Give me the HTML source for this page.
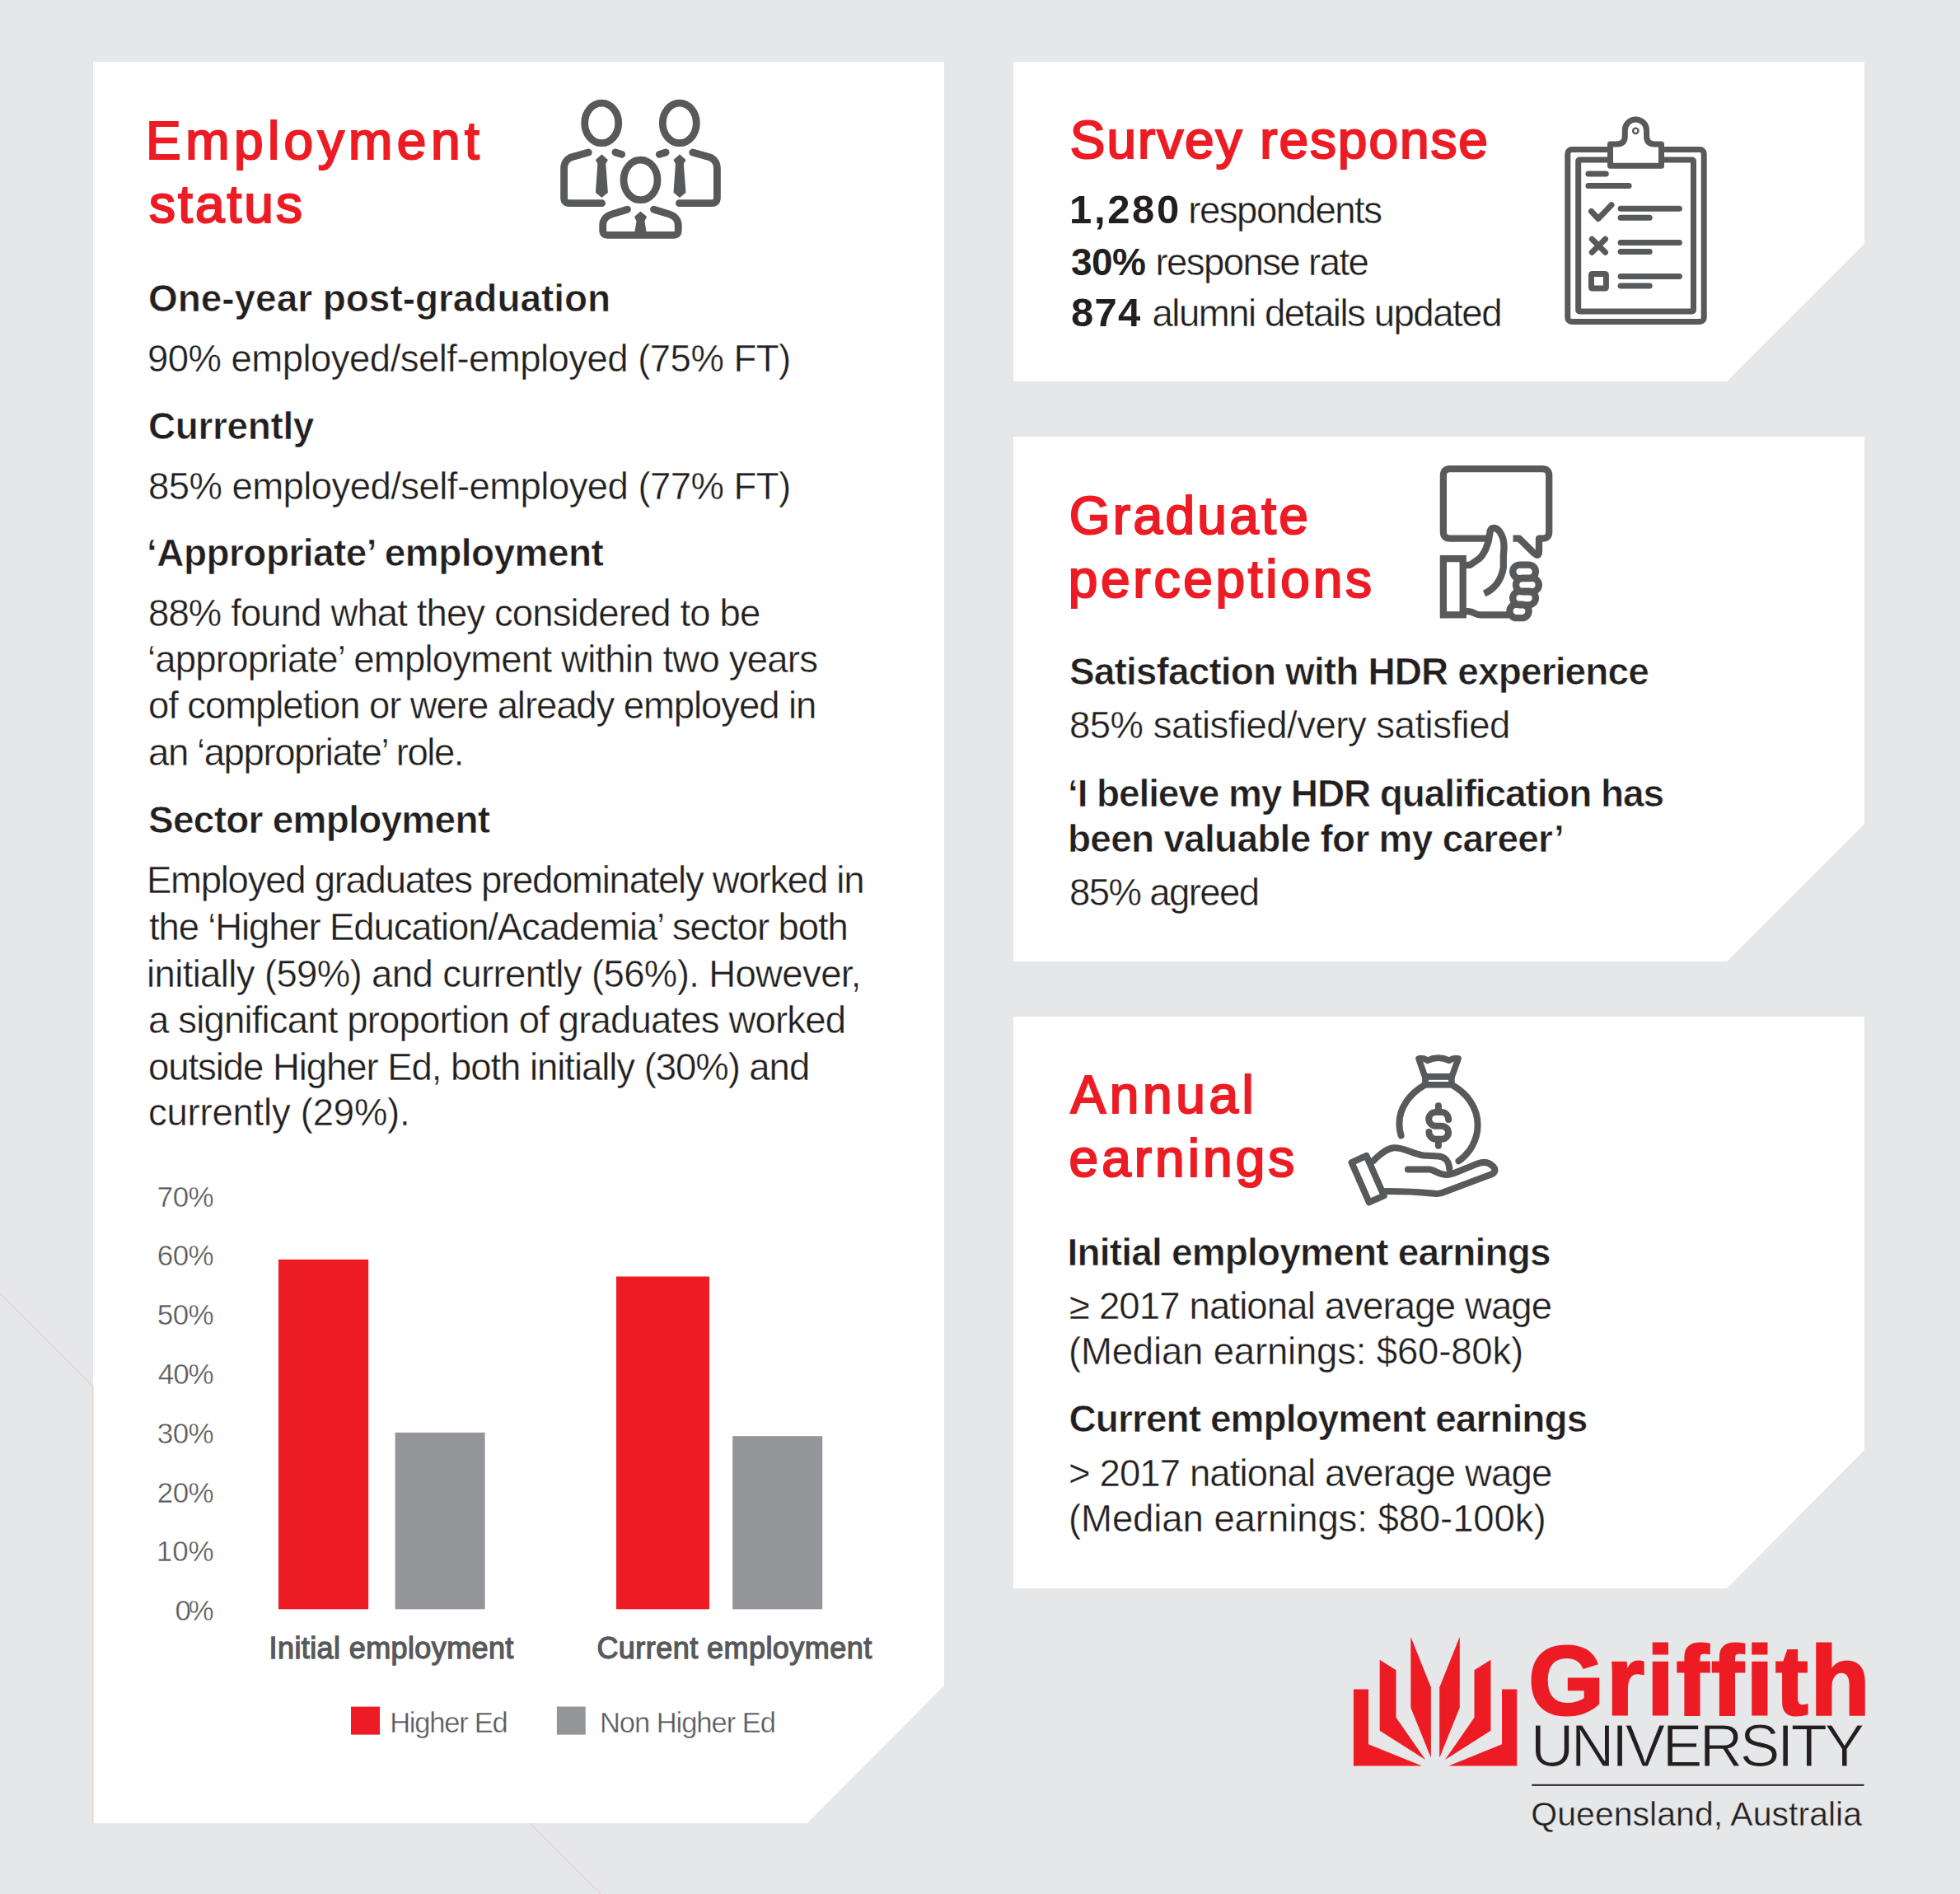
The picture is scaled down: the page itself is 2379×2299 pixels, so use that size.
<!DOCTYPE html>
<html><head><meta charset="utf-8"><title>Griffith HDR graduate outcomes</title>
<style>
html,body{margin:0;padding:0;background:#e6e7e8;}
body{width:2379px;height:2299px;overflow:hidden;}
svg{display:block;}
text{font-family:"Liberation Sans",sans-serif;}
</style></head><body>
<svg width="2379" height="2299" viewBox="0 0 2379 2299">
<rect width="2379" height="2299" fill="#e6e7e8"/>

<polygon points="113,75 1146,75 1146,2046 980,2213 113,2213" fill="#fff"/>
<polygon points="1230,75 2263,75 2263,296 2096,463 1230,463" fill="#fff"/>
<polygon points="1230,530 2263,530 2263,1000 2096,1167 1230,1167" fill="#fff"/>
<polygon points="1230,1234 2263,1234 2263,1760 2096,1928 1230,1928" fill="#fff"/>
<g stroke="#f0b4b8" stroke-width="1" fill="none" opacity="0.8">
<polyline points="0,1570 113,1683 113,2213"/>
<line x1="643" y1="2213" x2="729" y2="2299"/>
</g>


<rect x="338" y="1528.8" width="109.2" height="424.5" fill="#ed1c24"/>
<rect x="479.6" y="1738.9" width="109" height="214.4" fill="#939598"/>
<rect x="748" y="1549.5" width="113" height="403.8" fill="#ed1c24"/>
<rect x="889.2" y="1743.2" width="109" height="210.1" fill="#939598"/>
<rect x="426" y="2071.6" width="35" height="34" fill="#ed1c24"/>
<rect x="675.9" y="2071.5" width="34.8" height="34.1" fill="#939598"/>

<g transform="translate(670,110)" fill="none" stroke="#58595b" stroke-width="8.8" stroke-linecap="round" stroke-linejoin="round">
<ellipse cx="60.2" cy="39.4" rx="20.5" ry="24.3"/>
<ellipse cx="154.8" cy="39.4" rx="20.5" ry="24.3"/>
<ellipse cx="107.5" cy="108.4" rx="20.5" ry="24.3"/>
<path d="M44.3 75 L24.7 80.6 C18 82.5 14.6 88 14.6 94.3 L14.6 130 Q14.6 136.7 21 136.7 L60.6 136.7"/>
<path d="M76.9 75 L84.7 77.4"/>
<path d="M170.7 75 L190.3 80.6 C197 82.5 200.4 88 200.4 94.3 L200.4 130 Q200.4 136.7 194 136.7 L154.4 136.7"/>
<path d="M138.1 75 L130.3 77.4"/>
<path d="M91.5 144.2 L73 149.9 C66 152 61.7 157 61.7 163 L61.7 170 Q61.7 175.3 67 175.3 L148 175.3 Q153.2 175.3 153.2 170 L153.2 163 C153.2 157 149 152 142 149.9 L123.5 144.2"/>
</g>
<g transform="translate(670,110)" fill="#58595b" stroke="#58595b" stroke-width="1.5" stroke-linejoin="round">
<polygon points="60.4,78.3 67.1,84.2 64.5,88.7 67.1,123.5 60.4,128.9 53.7,123.5 56.1,88.7 53.7,84.2"/>
<polygon points="155,78.3 161.7,84.2 159.1,88.7 161.7,123.5 155,128.9 148.3,123.5 150.7,88.7 148.3,84.2"/>
<polygon points="107.4,147.6 114.1,153.2 111.7,158.3 113.9,172 101,172 103.3,158.3 100.8,153.2"/>
</g>

<g transform="translate(1880,130)" fill="none" stroke="#58595b" stroke-width="7" stroke-linecap="round" stroke-linejoin="round">
<rect x="22.8" y="51.6" width="165.4" height="208.9" rx="5"/>
<rect x="35.7" y="64.1" width="139.8" height="183.8" rx="1.5"/>
<path fill="#fff" d="M74.5 71.2 L136.5 71.2 L136.5 45 L128.5 45 Q118.5 45 118.5 35 L118.5 28 A13.1 13.1 0 0 0 92.3 28 L92.3 35 Q92.3 45 82.3 45 L74.5 45 Z"/>
<circle cx="105.3" cy="28.8" r="3.2" stroke-width="2.4"/>
<path d="M47.9 81 L69.3 81 M47.9 95.4 L97.1 95.4"/>
<path d="M51.5 126.5 L59.9 135.5 L76 118.8"/>
<path d="M87.1 123.2 L158.4 123.2 M87.1 134.3 L122.2 134.3"/>
<path d="M52.3 160.3 L68.5 176.2 M68.5 160.3 L52.3 176.2"/>
<path d="M87.1 164.4 L158.4 164.4 M87.1 175.5 L122.2 175.5"/>
<rect x="51.5" y="202.4" width="17.9" height="17.7" rx="1"/>
<path d="M87.1 205.6 L158.4 205.6 M87.1 217 L122.2 217"/>
</g>

<g transform="translate(1730,555)" fill="none" stroke="#58595b" stroke-width="8.3" stroke-linecap="butt" stroke-linejoin="round">
<path d="M77.6 98.7 L30.1 98.7 Q21.9 98.7 21.9 90.5 L21.9 22.3 Q21.9 14.1 30.1 14.1 L142 14.1 Q150.2 14.1 150.2 22.3 L150.2 90.5 Q150.2 98.7 142 98.7 L138 98.7 L138 114 Q138 122 132 116.5 L114 98.7 L106.5 98.7"/>
<rect x="21.9" y="123.1" width="23.8" height="68.2" stroke-linejoin="miter"/>
<path d="M45.7 130.9 L54.3 130.9 L65.4 123.1 C72 117 77 105 78.2 93 Q78.5 86 83 86 Q87 86 90 90 C94.5 96 96 104 95.4 112 L94.8 120 L94.8 134 C92 150 84 160 71.5 165.5"/>
<path d="M45.7 187.2 L52 187.2 Q56 187.2 59.5 189.3 Q63 191.4 68 191.4 L101 191.4"/>
<rect x="106.2" y="130.55" width="27.7" height="16.6" rx="8.3"/>
<rect x="110" y="146.65" width="27.8" height="16.6" rx="8.3"/>
<rect x="106.2" y="162.75" width="27.7" height="16.6" rx="8.3"/>
<rect x="102.4" y="178.55" width="23.2" height="16.6" rx="8.3"/>
</g>

<g transform="translate(1620,1270)" fill="none" stroke="#58595b" stroke-width="8" stroke-linecap="round" stroke-linejoin="round">
<path d="M102 15 Q107 13.5 112.8 17.2 Q125.8 11 139 17.2 Q145 13.5 150 15 L142.2 37 L109.6 37 Z" stroke-width="7.6"/>
<rect x="106.1" y="32.9" width="39.6" height="17.7" fill="#58595b" stroke="none"/>
<rect x="114" y="40.8" width="24.1" height="2.2" fill="#fff" stroke="none"/>
<path d="M108.5 47.5 C 92 57 78.4 74 78.4 94 C 78.4 99 79.3 104 80.6 108.3"/>
<path d="M143.5 47.5 C 160 57 173.6 74 173.6 95.6 C 173.6 114 164 130 150.5 139.3"/>
<path d="M125.9 72.3 L125.9 80 M125.9 112.7 L125.9 120.7"/>
<path d="M138.1 89 C138.1 84 134.5 80 130 80 L122.5 80 C117.9 80 114.2 83.8 114.2 88.35 C114.2 92.9 117.9 96.7 122.5 96.7 L129.7 96.7 C134.3 96.7 138 100.4 138 104.7 C138 109 134.3 112.7 129.7 112.7 L122.5 112.7 C118 112.7 114.4 108.5 114.4 103.9"/>
<polygon points="20.6,141.2 38.5,132.9 59.8,181.4 41.8,189.4"/>
<path d="M46.6 139.3 C55 131 63 124 72 123.3 C84 122.5 95 131 108 132.5 L126 133.4 C134 134 139 140 139.3 148.9"/>
<path d="M88.9 149.5 L115 149.5 C122 150.5 128 156.5 136 156 C140 156 145 154 150 152 L172 143 C180 139.5 187 140 192.5 146 C196 150 194.5 153.5 190 155.5 L130 178 C126 179.5 122 179 118 178.5 C100 176.5 80 176 62 176"/>
</g>

<g fill="#ed1c24">
<polygon points="1642.9,2050.6 1661.0,2050.6 1661.0,2117.2 1726.0,2143.6 1642.9,2143.6"/>
<polygon points="1841.2,2050.6 1823.0,2050.6 1823.0,2117.2 1758.1,2143.6 1841.2,2143.6"/>
<polygon points="1674.7,2014.7 1694.5,2027.3 1694.5,2084.8 1730.1,2136.0 1674.7,2100.8"/>
<polygon points="1809.4,2014.7 1789.5,2027.3 1789.5,2084.8 1754.0,2136.0 1809.4,2100.8"/>
<polygon points="1712.3,1986.7 1736.9,2048.2 1736.9,2133.7 1712.3,2072.8"/>
<polygon points="1771.8,1986.7 1747.2,2048.2 1747.2,2133.7 1771.8,2072.8"/>
</g>
<rect x="1859.3" y="2165.8" width="403.3" height="2" fill="#231f20"/>
<text x="177.0" y="193.0" font-size="64" fill="#ed1c24" letter-spacing="5.45" stroke="#ed1c24" stroke-width="2.2">Employment</text>
<text x="181.0" y="269.6" font-size="64" fill="#ed1c24" letter-spacing="3.05" stroke="#ed1c24" stroke-width="2.2">status</text>
<text x="180.0" y="377.5" font-size="46" font-weight="bold" fill="#231f20" letter-spacing="-0.05" stroke="#fff" stroke-width="0.6">One-year post-graduation</text>
<text x="179.0" y="450.7" font-size="45.5" fill="#231f20" letter-spacing="-0.53" stroke="#fff" stroke-width="0.4">90% employed/self-employed (75% FT)</text>
<text x="180.0" y="532.5" font-size="46" font-weight="bold" fill="#231f20" letter-spacing="-0.39" stroke="#fff" stroke-width="0.6">Currently</text>
<text x="180.0" y="605.9" font-size="45.5" fill="#231f20" letter-spacing="-0.56" stroke="#fff" stroke-width="0.4">85% employed/self-employed (77% FT)</text>
<text x="178.0" y="687.0" font-size="46" font-weight="bold" fill="#231f20" letter-spacing="-0.55" stroke="#fff" stroke-width="0.6">‘Appropriate’ employment</text>
<text x="180.0" y="760.3" font-size="45.5" fill="#231f20" letter-spacing="-0.88" stroke="#fff" stroke-width="0.4">88% found what they considered to be</text>
<text x="179.0" y="815.5" font-size="45.5" fill="#231f20" letter-spacing="-0.79" stroke="#fff" stroke-width="0.4">‘appropriate’ employment within two years</text>
<text x="180.0" y="871.9" font-size="45.5" fill="#231f20" letter-spacing="-1.09" stroke="#fff" stroke-width="0.4">of completion or were already employed in</text>
<text x="180.0" y="928.9" font-size="45.5" fill="#231f20" letter-spacing="-1.41" stroke="#fff" stroke-width="0.4">an ‘appropriate’ role.</text>
<text x="180.0" y="1011.2" font-size="46" font-weight="bold" fill="#231f20" letter-spacing="-0.74" stroke="#fff" stroke-width="0.6">Sector employment</text>
<text x="178.0" y="1083.5" font-size="45.5" fill="#231f20" letter-spacing="-1.26" stroke="#fff" stroke-width="0.4">Employed graduates predominately worked in</text>
<text x="181.0" y="1141.1" font-size="45.5" fill="#231f20" letter-spacing="-1.13" stroke="#fff" stroke-width="0.4">the ‘Higher Education/Academia’ sector both</text>
<text x="178.0" y="1197.5" font-size="45.5" fill="#231f20" letter-spacing="-0.63" stroke="#fff" stroke-width="0.4">initially (59%) and currently (56%). However,</text>
<text x="180.0" y="1253.6" font-size="45.5" fill="#231f20" letter-spacing="-0.83" stroke="#fff" stroke-width="0.4">a significant proportion of graduates worked</text>
<text x="180.0" y="1310.6" font-size="45.5" fill="#231f20" letter-spacing="-1.05" stroke="#fff" stroke-width="0.4">outside Higher Ed, both initially (30%) and</text>
<text x="180.0" y="1366.0" font-size="45.5" fill="#231f20" letter-spacing="-0.23" stroke="#fff" stroke-width="0.4">currently (29%).</text>
<text x="190.8" y="1464.5" font-size="35" fill="#58595b" letter-spacing="-0.62" stroke="#fff" stroke-width="0.4">70%</text>
<text x="190.8" y="1536.3" font-size="35" fill="#58595b" letter-spacing="-0.62" stroke="#fff" stroke-width="0.4">60%</text>
<text x="190.8" y="1608.1" font-size="35" fill="#58595b" letter-spacing="-0.62" stroke="#fff" stroke-width="0.4">50%</text>
<text x="191.8" y="1679.9" font-size="35" fill="#58595b" letter-spacing="-1.12" stroke="#fff" stroke-width="0.4">40%</text>
<text x="190.8" y="1751.7" font-size="35" fill="#58595b" letter-spacing="-0.62" stroke="#fff" stroke-width="0.4">30%</text>
<text x="190.8" y="1823.5" font-size="35" fill="#58595b" letter-spacing="-0.62" stroke="#fff" stroke-width="0.4">20%</text>
<text x="189.8" y="1895.2" font-size="35" fill="#58595b" letter-spacing="-0.12" stroke="#fff" stroke-width="0.4">10%</text>
<text x="212.4" y="1967.0" font-size="35" fill="#58595b" letter-spacing="-3.37" stroke="#fff" stroke-width="0.4">0%</text>
<text x="326.6" y="2013.0" font-size="36" fill="#58595b" letter-spacing="0.39" stroke="#58595b" stroke-width="1.3">Initial employment</text>
<text x="724.4" y="2013.0" font-size="36" fill="#58595b" letter-spacing="0.45" stroke="#58595b" stroke-width="1.3">Current employment</text>
<text x="473.2" y="2102.9" font-size="34.5" fill="#58595b" letter-spacing="-1.24" stroke="#fff" stroke-width="0.4">Higher Ed</text>
<text x="727.9" y="2102.8" font-size="34.5" fill="#58595b" letter-spacing="-1.03" stroke="#fff" stroke-width="0.4">Non Higher Ed</text>
<text x="1298.8" y="192.0" font-size="64" fill="#ed1c24" letter-spacing="1.92" stroke="#ed1c24" stroke-width="2.2">Survey response</text>
<text x="1298.0" y="270.6" font-size="49" font-weight="bold" fill="#231f20" letter-spacing="2.66">1,280</text>
<text x="1442.3" y="270.6" font-size="45.5" fill="#231f20" letter-spacing="-1.47" stroke="#fff" stroke-width="0.4">respondents</text>
<text x="1300.0" y="333.6" font-size="46" font-weight="bold" fill="#231f20" letter-spacing="-0.58">30%</text>
<text x="1402.5" y="333.6" font-size="45.5" fill="#231f20" letter-spacing="-1.58" stroke="#fff" stroke-width="0.4">response rate</text>
<text x="1300.0" y="395.5" font-size="49" font-weight="bold" fill="#231f20" letter-spacing="1.25">874</text>
<text x="1398.4" y="395.5" font-size="45.5" fill="#231f20" letter-spacing="-1.44" stroke="#fff" stroke-width="0.4">alumni details updated</text>
<text x="1297.7" y="648.0" font-size="64" fill="#ed1c24" letter-spacing="3.34" stroke="#ed1c24" stroke-width="2.2">Graduate</text>
<text x="1296.7" y="725.0" font-size="64" fill="#ed1c24" letter-spacing="3.74" stroke="#ed1c24" stroke-width="2.2">perceptions</text>
<text x="1298.0" y="831.2" font-size="46" font-weight="bold" fill="#231f20" letter-spacing="-0.88" stroke="#fff" stroke-width="0.6">Satisfaction with HDR experience</text>
<text x="1298.0" y="896.3" font-size="45.5" fill="#231f20" letter-spacing="-0.50" stroke="#fff" stroke-width="0.4">85% satisfied/very satisfied</text>
<text x="1296.0" y="978.6" font-size="46" font-weight="bold" fill="#231f20" letter-spacing="-1.11" stroke="#fff" stroke-width="0.6">‘I believe my HDR qualification has</text>
<text x="1296.0" y="1034.0" font-size="46" font-weight="bold" fill="#231f20" letter-spacing="-0.75" stroke="#fff" stroke-width="0.6">been valuable for my career’</text>
<text x="1298.0" y="1099.0" font-size="45.5" fill="#231f20" letter-spacing="-1.59" stroke="#fff" stroke-width="0.4">85% agreed</text>
<text x="1299.5" y="1350.8" font-size="64" fill="#ed1c24" letter-spacing="4.61" stroke="#ed1c24" stroke-width="2.2">Annual</text>
<text x="1297.5" y="1428.4" font-size="64" fill="#ed1c24" letter-spacing="4.04" stroke="#ed1c24" stroke-width="2.2">earnings</text>
<text x="1295.6" y="1536.0" font-size="46" font-weight="bold" fill="#231f20" letter-spacing="-0.82" stroke="#fff" stroke-width="0.6">Initial employment earnings</text>
<text x="1298.0" y="1601.4" font-size="45.5" fill="#231f20" letter-spacing="-0.86" stroke="#fff" stroke-width="0.4">≥ 2017 national average wage</text>
<text x="1297.0" y="1656.4" font-size="45.5" fill="#231f20" letter-spacing="-0.17" stroke="#fff" stroke-width="0.4">(Median earnings: $60-80k)</text>
<text x="1297.6" y="1737.9" font-size="46" font-weight="bold" fill="#231f20" letter-spacing="-0.95" stroke="#fff" stroke-width="0.6">Current employment earnings</text>
<text x="1297.0" y="1804.0" font-size="45.5" fill="#231f20" letter-spacing="-0.88" stroke="#fff" stroke-width="0.4">&gt; 2017 national average wage</text>
<text x="1297.0" y="1859.3" font-size="45.5" fill="#231f20" letter-spacing="-0.08" stroke="#fff" stroke-width="0.4">(Median earnings: $80-100k)</text>
<text x="1855.3" y="2081.4" font-size="118" font-weight="bold" fill="#ed1c24" letter-spacing="3.02" stroke="#ed1c24" stroke-width="3">Griffith</text>
<text x="1857.7" y="2143.6" font-size="73" fill="#231f20" letter-spacing="-3.61" stroke="#e6e7e8" stroke-width="1.2">UNIVERSITY</text>
<text x="1858.3" y="2216.4" font-size="41" fill="#231f20" letter-spacing="0.03" stroke="#e6e7e8" stroke-width="0.4">Queensland, Australia</text>
</svg>
</body></html>
